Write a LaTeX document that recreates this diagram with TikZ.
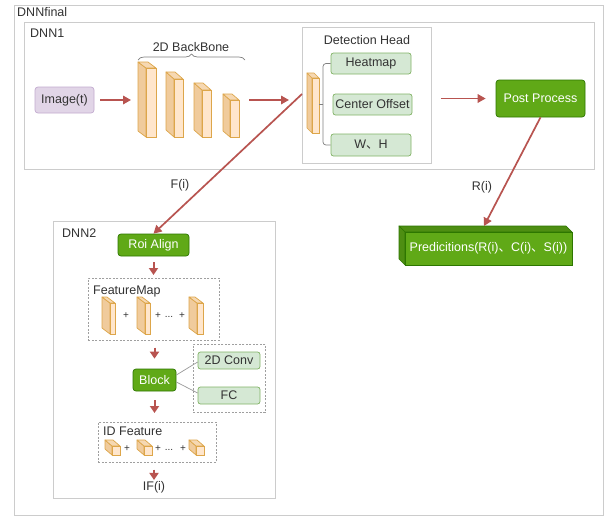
\documentclass[tikz,border=0pt]{standalone}
\usepackage{fontspec}
\setmainfont{Liberation Sans}
\newfontfamily\cjk{Noto Sans CJK SC}
\usetikzlibrary{arrows.meta,decorations.pathreplacing}
\definecolor{txt}{HTML}{333333}
\definecolor{arrred}{HTML}{B85450}
\definecolor{dkfill}{HTML}{60A917}
\definecolor{dkedge}{HTML}{2D7600}
\definecolor{dkside}{HTML}{4E8E12}
\definecolor{ltfill}{HTML}{D5E8D4}
\definecolor{ltedge}{HTML}{82B366}
\definecolor{pufill}{HTML}{E1D5E7}
\definecolor{puedge}{HTML}{C3ABD0}
\definecolor{cfront}{HTML}{FFE6CC}
\definecolor{cside}{HTML}{F0CB9C}
\definecolor{ctop}{HTML}{F6D8B2}
\definecolor{cedge}{HTML}{DDA64A}
\newcommand{\dcube}[6]{%
  \filldraw[fill=cside,draw=cedge,line width=0.7pt,line join=round] (#1,#2) -- ({#1-#5},{#2-#6}) -- ({#1-#5},{#4-#6}) -- (#1,#4) -- cycle;
  \filldraw[fill=ctop,draw=cedge,line width=0.7pt,line join=round] (#1,#2) -- ({#1-#5},{#2-#6}) -- ({#3-#5},{#2-#6}) -- (#3,#2) -- cycle;
  \filldraw[fill=cfront,draw=cedge,line width=0.7pt] (#1,#2) rectangle (#3,#4);}
\tikzset{
  grp/.style={draw=gray!40,line width=0.8pt,anchor=north west},
  dgrp/.style={draw=gray!75,dashed,dash pattern=on 2pt off 1.5pt,line width=0.7pt,anchor=north west},
  dkbox/.style={fill=dkfill,draw=dkedge,line width=0.7pt,rounded corners=3pt,text=white},
  ltbox/.style={fill=ltfill,draw=ltedge,line width=0.7pt,rounded corners=2.5pt,text=txt},
  redarrow/.style={draw=arrred,line width=1.7pt,-{Triangle[length=8pt,width=8.5pt]}},
  shortarrow/.style={draw=arrred,line width=2pt,-{Triangle[length=7pt,width=9pt]}},
  lbl/.style={text=txt},
  plus/.style={text=txt,font=\fontsize{10}{12}\selectfont},
  grayline/.style={draw=gray!80,line width=0.7pt}
}
\begin{document}
\begin{tikzpicture}[x=1pt,y=-1pt,every node/.style={font=\fontsize{12.5}{15}\selectfont,inner sep=0pt}]
\useasboundingbox[fill=white] (0,0) rectangle (607,517);
% containers
\node[grp,minimum width=589,minimum height=510] (dnnfinal) at (14,5) {};
\node[lbl,anchor=west] (lfinal) at (17,12) {DNNfinal};
\node[grp,minimum width=570,minimum height=147] (dnn1) at (24,22) {};
\node[lbl,anchor=west] (l1) at (30,33) {DNN1};
\node[grp,minimum width=129,minimum height=136] (dh) at (302,27) {};
\node[lbl] (ldh) at (367,40) {Detection Head};
\node[grp,minimum width=222,minimum height=277] (dnn2) at (53,221) {};
\node[lbl,anchor=west] (l2) at (62,233) {DNN2};
% DNN1 content
\node[fill=pufill,draw=puedge,line width=0.7pt,rounded corners=3pt,text=txt,minimum width=59,minimum height=26] (img) at (64.5,100) {Image(t)};
\node[lbl] (bbl) at (191,47) {2D BackBone};
\draw[decorate,decoration={brace,amplitude=6pt},gray,line width=0.7pt] (138,60) -- (245,60);
\dcube{146}{68}{156}{137}{8}{6}
\dcube{174}{79}{183}{137}{8}{7}
\dcube{202}{90}{211}{137}{8}{7}
\dcube{230}{100}{239}{137}{7}{6}
\coordinate (bb1) at (138,100);
\coordinate (bb4) at (239,100);
\dcube{312}{78}{319}{133}{5}{5}
\node[ltbox,minimum width=80,minimum height=21] (heat) at (371,63.5) {Heatmap};
\node[ltbox,minimum width=79,minimum height=21] (co) at (372.5,104.5) {Center Offset};
\node[ltbox,minimum width=80,minimum height=22] (wh) at (371,145) {W{\cjk 、}H};
\draw[gray,line width=0.7pt,rounded corners=3pt] (heat.west) -- (323,63.5) -- (323,145) -- (wh.west);
\draw[gray,line width=0.7pt] (323,104) -- (319,104);
\node[dkbox,minimum width=89,minimum height=37] (pp) at (540.5,98.5) {Post Process};
\draw[redarrow,shorten <=6pt,shorten >=7pt] (img.east) -- (bb1);
\draw[redarrow,shorten <=10pt,shorten >=13pt] (bb4) -- (dh.west |- bb4);
\draw[redarrow,shorten <=9pt,shorten >=10pt] (dh.east |- pp.west) -- (pp.west);
% predictions
\filldraw[fill=dkside,draw=dkedge,line width=0.7pt,line join=round] (405,232) -- (399,226) -- (566,226) -- (572,232) -- cycle;
\filldraw[fill=dkside,draw=dkedge,line width=0.7pt,line join=round] (405,232) -- (399,226) -- (399,259) -- (405,265) -- cycle;
\node[fill=dkfill,draw=dkedge,line width=0.7pt,text=white,minimum width=167,minimum height=33] (pred) at (488.5,248.5) {Predicitions(R(i){\cjk 、}C(i){\cjk 、}S(i))};
\coordinate (predtop) at (484,226);
\draw[redarrow] (pp.south) -- (predtop);
\node[lbl] (ri) at (482,187) {R(i)};
% DNN2
\coordinate (fstart) at (302,94);
\node[dkbox,minimum width=71,minimum height=22] (roi) at (153.5,245) {Roi Align};
\draw[redarrow] (fstart) -- (roi.north);
\node[lbl] (fi) at (180,185) {F(i)};
\node[dgrp,minimum width=131,minimum height=62] (fm) at (88,278) {};
\node[lbl,anchor=west] (lfm) at (93,291) {FeatureMap};
\dcube{110}{303}{115}{334}{8}{6}
\dcube{145}{303}{150}{334}{8}{6}
\dcube{197}{303}{203}{334}{8}{6}
\node[plus] (p1) at (126,316) {+};
\node[plus] (p2) at (158,316) {+};
\node[plus] (p3) at (169,317) {...};
\node[plus] (p4) at (182,316) {+};
\draw[shortarrow,shorten <=6pt,shorten >=3pt] (roi.south) -- (fm.north -| roi.south);
\node[dkbox,minimum width=43,minimum height=22] (blk) at (154.5,380) {Block};
\node[dgrp,minimum width=72,minimum height=68] (cg) at (193,344) {};
\node[ltbox,minimum width=62,minimum height=17] (conv) at (229,360.5) {2D Conv};
\node[ltbox,minimum width=62,minimum height=17] (fc) at (229,395.5) {FC};
\draw[grayline] ([yshift=5pt]blk.east) -- ([yshift=-1.5pt]conv.west);
\draw[grayline] ([yshift=-2pt]blk.east) -- ([yshift=2.5pt]fc.west);
\draw[shortarrow,shorten <=7pt,shorten >=10pt] (fm.south -| blk.north) -- (blk.north);
\node[dgrp,minimum width=118,minimum height=40] (idf) at (98,422) {};
\node[lbl,anchor=west] (lidf) at (103,431) {ID Feature};
\dcube{112}{446}{120}{455}{7}{6}
\dcube{144}{446}{152}{455}{7}{6}
\dcube{196}{446}{204}{455}{7}{6}
\node[plus] (q1) at (127,449) {+};
\node[plus] (q2) at (158,449) {+};
\node[plus] (q3) at (169,450) {...};
\node[plus] (q4) at (183,449) {+};
\draw[shortarrow,shorten <=9pt,shorten >=9pt] (blk.south) -- (idf.north -| blk.south);
\node[lbl] (ifi) at (154,487) {IF(i)};
\draw[shortarrow,shorten <=7pt,shorten >=1pt] (idf.south -| ifi.north) -- (ifi.north);
\end{tikzpicture}
\end{document}
